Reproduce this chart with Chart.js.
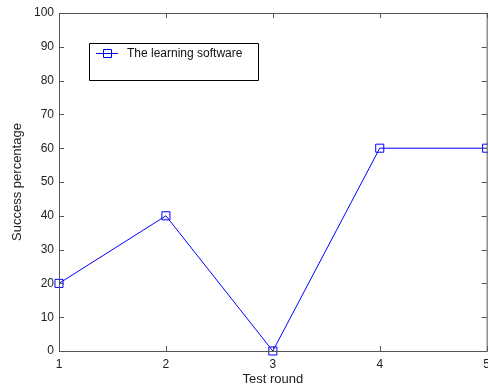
<!DOCTYPE html>
<html>
<head>
<meta charset="utf-8">
<script src="https://cdn.jsdelivr.net/npm/chart.js@4"></script>
<style>
  html, body { margin: 0; padding: 0; background: #fff; overflow: hidden; }
  #wrap { width: 488px; height: 387px; overflow: hidden; }
  #box { width: 496px; height: 387px; }
</style>
</head>
<body>
<div id="wrap"><div id="box"><canvas id="chart"></canvas></div></div>
<script>
const rounds = [1, 2, 3, 4, 5];
const success = [20, 40, 0, 60, 60];
const seriesName = "The learning software";
const xTitle = "Test round";
const yTitle = "Success percentage";

const FONT = "'Liberation Sans', Arial, sans-serif";
const AXIS = "#555";

// MATLAB-style frame: full box with inward ticks, plus the legend box
const framePlugin = {
  id: "frame",
  afterDraw(chart) {
    const { ctx, chartArea: a, scales } = chart;
    ctx.save();
    ctx.strokeStyle = AXIS;
    ctx.lineWidth = 1;
    ctx.strokeRect(a.left + 0.5, a.top + 0.5, a.right - a.left, a.bottom - a.top);
    ctx.beginPath();
    scales.y.ticks.forEach(t => {
      const y = Math.round(scales.y.getPixelForValue(t.value)) + 0.5;
      ctx.moveTo(a.left, y); ctx.lineTo(a.left + 5, y);
      ctx.moveTo(a.right - 5, y); ctx.lineTo(a.right, y);
    });
    scales.x.ticks.forEach(t => {
      const x = Math.round(scales.x.getPixelForValue(t.value)) + 0.5;
      ctx.moveTo(x, a.bottom); ctx.lineTo(x, a.bottom - 5);
      ctx.moveTo(x, a.top); ctx.lineTo(x, a.top + 5);
    });
    ctx.stroke();

    const lx = a.left + 30, ly = a.top + 30, lw = 169, lh = 37;
    ctx.fillStyle = "#fff";
    ctx.fillRect(lx, ly, lw, lh);
    ctx.strokeStyle = "#000";
    ctx.beginPath();
    ctx.rect(lx + 0.5, ly + 0.5, lw, lh);
    ctx.stroke();
    const my = ly + 10.5;
    ctx.strokeStyle = "#0000ff";
    ctx.beginPath();
    ctx.moveTo(lx + 7, my); ctx.lineTo(lx + 29, my);
    ctx.rect(lx + 14.5, my - 4, 8, 8);
    ctx.stroke();
    ctx.fillStyle = "#111";
    ctx.font = "12px " + FONT;
    ctx.textBaseline = "middle";
    ctx.fillText(seriesName, lx + 38, my);
    ctx.restore();
  }
};

new Chart(document.getElementById("chart"), {
  type: "line",
  data: {
    datasets: [{
      label: seriesName,
      data: rounds.map((r, i) => ({ x: r, y: success[i] })),
      borderColor: "#0000ff",
      borderWidth: 1,
      pointStyle: "rect",
      pointRadius: 5.7,
      pointBackgroundColor: "rgba(0,0,0,0)",
      pointBorderColor: "#0000ff",
      pointBorderWidth: 1,
      tension: 0,
      clip: false
    }]
  },
  options: {
    responsive: true, maintainAspectRatio: false, animation: false,
    layout: { padding: { top: 13, right: 6, left: 0, bottom: 0 } },
    plugins: { legend: { display: false }, tooltip: { enabled: false } },
    scales: {
      x: {
        type: "linear", min: 1, max: 5,
        grid: { display: false, drawTicks: false },
        border: { display: false },
        afterFit(s) { s.height = 36; },
        ticks: { stepSize: 1, padding: 6, color: "#222", font: { family: FONT, size: 12 } },
        title: { display: true, text: xTitle, color: "#222", padding: { top: 0, bottom: 0 }, font: { family: FONT, size: 13 } }
      },
      y: {
        min: 0, max: 100,
        grid: { display: false, drawTicks: false },
        border: { display: false },
        afterFit(s) { s.width = 59; },
        ticks: { stepSize: 10, padding: 5, color: "#222", font: { family: FONT, size: 12 } },
        title: { display: true, text: yTitle, color: "#222", padding: { top: 10, bottom: 0 }, font: { family: FONT, size: 13 } }
      }
    }
  },
  plugins: [framePlugin]
});
</script>
</body>
</html>
